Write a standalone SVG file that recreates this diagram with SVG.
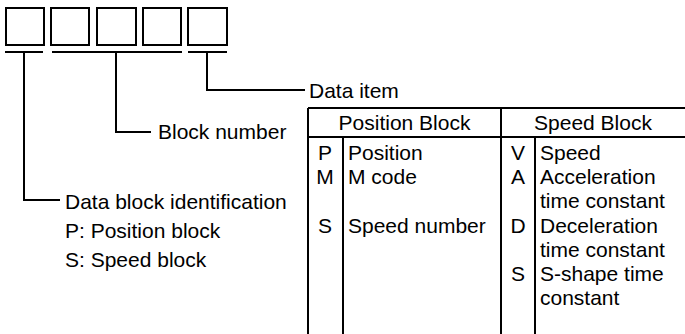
<svg xmlns="http://www.w3.org/2000/svg" width="685" height="334" viewBox="0 0 685 334">
<style>
.t{font-family:"Liberation Sans",Arial,sans-serif;font-size:21px;fill:#000}
.c{text-anchor:middle}
.box{fill:#fff;stroke:#000;stroke-width:2}
.ln{stroke:#000;stroke-width:2;fill:none}
</style>
<rect width="685" height="334" fill="#fff"/>
<g id="boxes">
<rect id="box1" class="box" x="6" y="8" width="38" height="37"/>
<rect id="box2" class="box" x="51" y="8" width="38" height="37"/>
<rect id="box3" class="box" x="97" y="8" width="39" height="37"/>
<rect id="box4" class="box" x="143" y="8" width="38" height="37"/>
<rect id="box5" class="box" x="188" y="8" width="39" height="37"/>
</g>
<g id="connectors" class="ln">
<path d="M5 52H43M52 52H182M188 52H227"/>
<path d="M24 52V200H60"/>
<path d="M116 52V132H151"/>
<path d="M207 52V90H305"/>
</g>
<g id="label-id">
<text class="t" x="65" y="209">Data block identification</text>
<text class="t" x="65" y="238">P: Position block</text>
<text class="t" x="65" y="267">S: Speed block</text>
</g>
<g id="label-block"><text class="t" x="158" y="139">Block number</text></g>
<g id="label-item"><text class="t" x="309" y="98">Data item</text></g>
<g id="table">
<path class="ln" d="M308 108H685M308 137H685M308 108V334M501 108V334M343 137V334M535 137V334"/>
<text class="t c" x="404.5" y="130">Position Block</text>
<text class="t c" x="593" y="130">Speed Block</text>
<text class="t c" x="325" y="160">P</text>
<text class="t" x="348" y="160">Position</text>
<text class="t c" x="325" y="184">M</text>
<text class="t" x="348" y="184">M code</text>
<text class="t c" x="325" y="233">S</text>
<text class="t" x="348" y="233">Speed number</text>
<text class="t c" x="518" y="160">V</text>
<text class="t" x="540" y="160">Speed</text>
<text class="t c" x="518" y="184">A</text>
<text class="t" x="540" y="184">Acceleration</text>
<text class="t" x="540" y="208">time constant</text>
<text class="t c" x="518" y="233">D</text>
<text class="t" x="540" y="233">Deceleration</text>
<text class="t" x="540" y="257">time constant</text>
<text class="t c" x="518" y="281">S</text>
<text class="t" x="540" y="281">S-shape time</text>
<text class="t" x="540" y="305">constant</text>
</g>
</svg>
